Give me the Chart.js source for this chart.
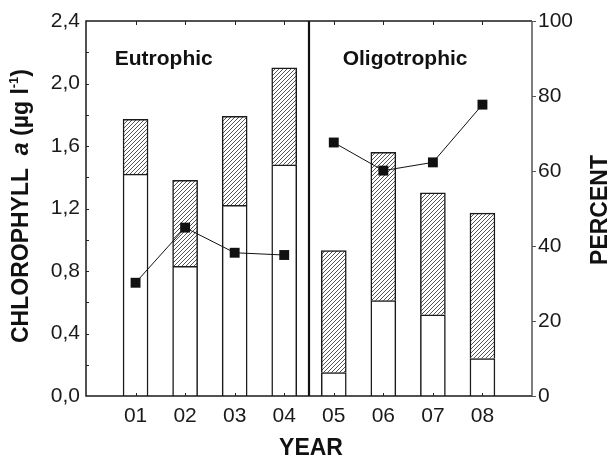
<!DOCTYPE html>
<html>
<head>
<meta charset="utf-8">
<script src="https://cdn.jsdelivr.net/npm/chart.js@4.4.1/dist/chart.umd.min.js"></script>
<style>
  html, body { margin: 0; padding: 0; background: #fff; }
  #wrap { width: 614px; height: 460px; }
</style>
</head>
<body>
<div id="wrap"><canvas id="chart" width="614" height="460"></canvas></div>
<script>
// dados
const years = ['01', '02', '03', '04', '05', '06', '07', '08'];
const chlLower = [1.42, 0.83, 1.22, 1.48, 0.15, 0.61, 0.52, 0.24];
const chlUpper = [0.35, 0.55, 0.57, 0.62, 0.78, 0.95, 0.78, 0.93];
const percentEutrophic = [30.2, 44.9, 38.2, 37.6];
const percentOligotrophic = [67.6, 60.1, 62.3, 77.7];
const chlTicks = [0, 0.4, 0.8, 1.2, 1.6, 2.0, 2.4];
const percentTicks = [0, 20, 40, 60, 80, 100];

const FONT = '"Liberation Sans", Arial, sans-serif';

// posições vazias nas pontas do eixo x
const labels = [''].concat(years, ['']);
const pad = arr => [null].concat(arr, [null]);
const eutroLine = [null].concat(percentEutrophic, [null, null, null, null, null]);
const oligoLine = [null, null, null, null, null].concat(percentOligotrophic, [null]);

// padrão hachurado
function makeHatch() {
    const c = document.createElement('canvas');
    c.width = 4; c.height = 4;
    const g = c.getContext('2d');
    g.fillStyle = '#ffffff';
    g.fillRect(0, 0, 4, 4);
    g.strokeStyle = '#555555';
    g.lineWidth = 1;
    g.beginPath();
    g.moveTo(-1, 5); g.lineTo(5, -1);
    g.moveTo(-1, 1); g.lineTo(1, -1);
    g.moveTo(3, 5); g.lineTo(5, 3);
    g.stroke();
    return document.getElementById('chart').getContext('2d').createPattern(c, 'repeat');
}

const framePlugin = {
    id: 'frame',
    afterDraw(chart) {
        const ctx = chart.ctx;
        const a = chart.chartArea;
        const x = chart.scales.x, y = chart.scales.y, y2 = chart.scales.y2;
        ctx.save();
        ctx.lineCap = 'butt';

        // moldura
        ctx.strokeStyle = '#1a1a1a';
        ctx.lineWidth = 1.5;
        ctx.beginPath();
        ctx.moveTo(a.right, a.top); ctx.lineTo(a.left, a.top);
        ctx.lineTo(a.left, a.bottom); ctx.lineTo(a.right, a.bottom);
        ctx.stroke();
        ctx.strokeStyle = '#555555';
        ctx.beginPath();
        ctx.moveTo(a.right, a.top); ctx.lineTo(a.right, a.bottom);
        ctx.stroke();

        // divisória entre os grupos
        const xd = x.getPixelForValue(4.5);
        ctx.strokeStyle = '#111111';
        ctx.lineWidth = 2.2;
        ctx.beginPath();
        ctx.moveTo(xd, a.top); ctx.lineTo(xd, a.bottom);
        ctx.stroke();

        // marcas dos eixos
        ctx.lineWidth = 1;
        ctx.strokeStyle = '#222222';
        ctx.beginPath();
        for (let v = 0.2; v < 2.4; v += 0.2) {
            const py = Math.round(y.getPixelForValue(v)) + 0.5;
            ctx.moveTo(a.left, py); ctx.lineTo(a.left + 3, py);
        }
        for (let i = 1; i <= 8; i++) {
            const px = Math.round(x.getPixelForValue(i)) + 0.5;
            ctx.moveTo(px, a.top); ctx.lineTo(px, a.top + 4);
            ctx.moveTo(px, a.bottom); ctx.lineTo(px, a.bottom - 3);
        }
        ctx.stroke();
        ctx.strokeStyle = '#555555';
        ctx.beginPath();
        percentTicks.forEach(v => {
            const py = Math.round(y2.getPixelForValue(v)) + 0.5;
            ctx.moveTo(a.right, py); ctx.lineTo(a.right + 4, py);
        });
        ctx.stroke();

        // rótulos dos grupos
        ctx.fillStyle = '#111111';
        ctx.font = 'bold 21px ' + FONT;
        ctx.textBaseline = 'middle';
        ctx.textAlign = 'left';
        ctx.fillText('Eutrophic', x.getPixelForValue(0.58), y.getPixelForValue(2.155));
        ctx.fillText('Oligotrophic', x.getPixelForValue(5.18), y.getPixelForValue(2.155));

        // títulos dos eixos
        ctx.textAlign = 'center';
        ctx.font = 'bold 23px ' + FONT;
        ctx.fillText('YEAR', (a.left + a.right) / 2 + 2, 449);

        ctx.save();
        ctx.translate(601, 210);
        ctx.rotate(-Math.PI / 2);
        ctx.fillText('PERCENT', 0, 0);
        ctx.restore();

        const parts = [
            { t: 'CHLOROPHYLL  ', f: 'bold 23px ' + FONT, dy: 0 },
            { t: 'a', f: 'italic bold 23px ' + FONT, dy: 0 },
            { t: ' (\u00b5g l', f: 'bold 23px ' + FONT, dy: 0 },
            { t: '-1', f: 'bold 13px ' + FONT, dy: -8 },
            { t: ')', f: 'bold 23px ' + FONT, dy: 0 }
        ];
        let total = 0;
        parts.forEach(p => { ctx.font = p.f; p.w = ctx.measureText(p.t).width; total += p.w; });
        ctx.save();
        ctx.translate(22, 206);
        ctx.rotate(-Math.PI / 2);
        ctx.textAlign = 'left';
        let cx = -total / 2;
        parts.forEach(p => {
            ctx.font = p.f;
            ctx.fillText(p.t, cx, p.dy);
            cx += p.w;
        });
        ctx.restore();

        ctx.restore();
    }
};

const hatch = makeHatch();

new Chart(document.getElementById('chart'), {
    data: {
        labels: labels,
        datasets: [
            {
                type: 'line',
                data: eutroLine,
                yAxisID: 'y2',
                borderColor: '#111111',
                borderWidth: 1,
                pointStyle: 'rect',
                pointRadius: 7,
                pointBackgroundColor: '#111111',
                pointBorderColor: '#111111',
                pointBorderWidth: 0,
                spanGaps: false,
                order: 0
            },
            {
                type: 'line',
                data: oligoLine,
                yAxisID: 'y2',
                borderColor: '#111111',
                borderWidth: 1,
                pointStyle: 'rect',
                pointRadius: 7,
                pointBackgroundColor: '#111111',
                pointBorderColor: '#111111',
                pointBorderWidth: 0,
                spanGaps: false,
                order: 0
            },
            {
                type: 'bar',
                data: pad(chlLower),
                yAxisID: 'y',
                backgroundColor: '#ffffff',
                borderColor: '#1a1a1a',
                borderWidth: 1.5,
                barThickness: 25,
                order: 1
            },
            {
                type: 'bar',
                data: pad(chlUpper),
                yAxisID: 'y',
                backgroundColor: hatch,
                borderColor: '#1a1a1a',
                borderWidth: 1.5,
                barThickness: 25,
                order: 1
            }
        ]
    },
    options: {
        responsive: false,
        animation: false,
        layout: { padding: { top: 21, left: 0, right: 0, bottom: 0 } },
        plugins: { legend: { display: false }, tooltip: { enabled: false } },
        scales: {
            x: {
                stacked: true,
                offset: false,
                grid: { display: false, drawTicks: false, tickLength: 0 },
                border: { display: false },
                ticks: {
                    color: '#1a1a1a',
                    font: { family: FONT, size: 21 },
                    padding: 8,
                    autoSkip: false,
                    maxRotation: 0
                },
                afterFit(scale) { scale.height = 64; }
            },
            y: {
                stacked: true,
                position: 'left',
                min: 0,
                max: 2.4,
                grid: { display: false, drawTicks: false, tickLength: 0 },
                border: { display: false },
                afterBuildTicks(scale) { scale.ticks = chlTicks.map(v => ({ value: v })); },
                ticks: {
                    color: '#1a1a1a',
                    font: { family: FONT, size: 21 },
                    padding: 6,
                    callback: v => v.toFixed(1).replace('.', ',')
                },
                afterFit(scale) { scale.width = 86; }
            },
            y2: {
                position: 'right',
                min: 0,
                max: 100,
                grid: { display: false, drawTicks: false, tickLength: 0 },
                border: { display: false },
                afterBuildTicks(scale) { scale.ticks = percentTicks.map(v => ({ value: v })); },
                ticks: {
                    color: '#1a1a1a',
                    font: { family: FONT, size: 21 },
                    padding: 6
                },
                afterFit(scale) { scale.width = 82; }
            }
        }
    },
    plugins: [framePlugin]
});
</script>
</body>
</html>
